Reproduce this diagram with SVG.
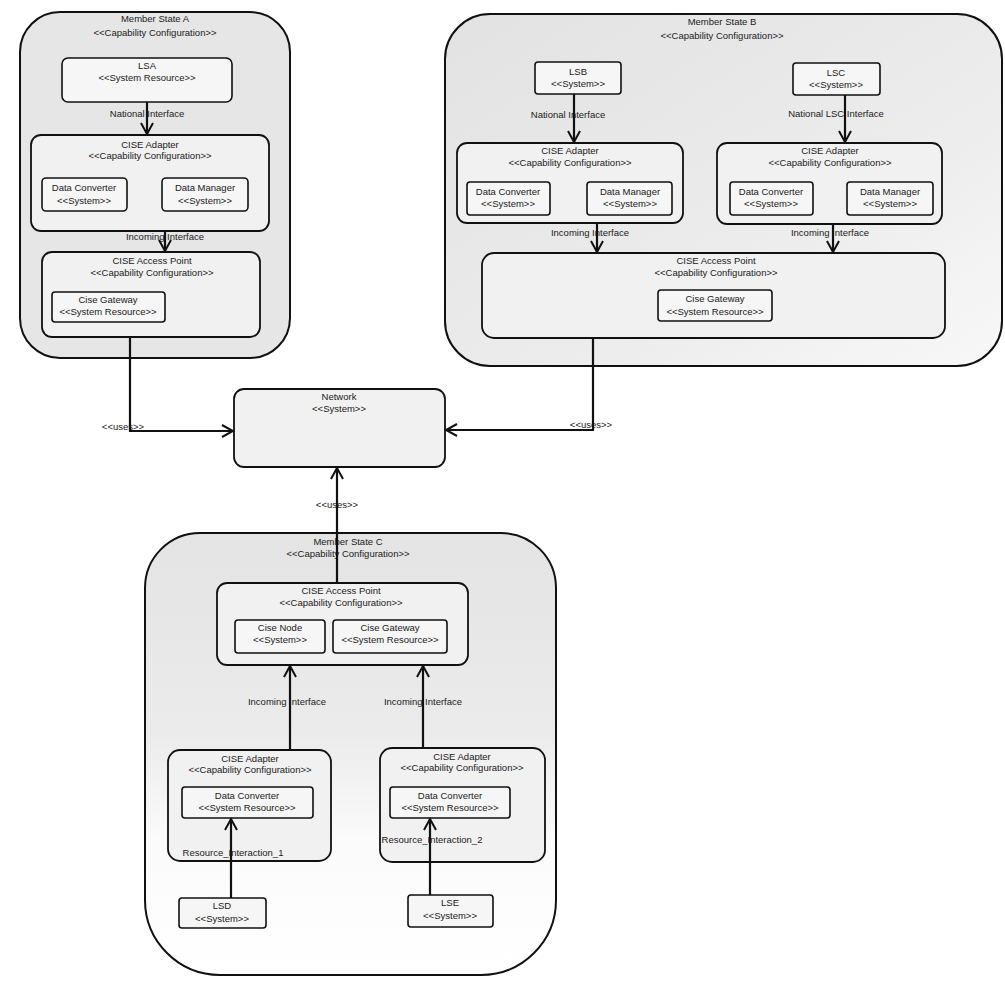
<svg xmlns="http://www.w3.org/2000/svg" width="1005" height="983" viewBox="0 0 1005 983">
<defs>
<marker id="arr" markerUnits="userSpaceOnUse" markerWidth="14" markerHeight="14" viewBox="0 0 14 14" refX="12" refY="7" orient="auto">
<path d="M1,1 L12,7 L1,13" fill="none" stroke="#111" stroke-width="2"/>
</marker>
<linearGradient id="gC" x1="0" y1="0" x2="0" y2="1">
<stop offset="0" stop-color="#e4e4e4"/>
<stop offset="0.45" stop-color="#ebebeb"/>
<stop offset="0.7" stop-color="#fbfbfb"/>
<stop offset="1" stop-color="#ffffff"/>
</linearGradient>
<linearGradient id="gB" x1="0" y1="0" x2="1" y2="1">
<stop offset="0" stop-color="#e2e2e2"/>
<stop offset="0.6" stop-color="#ececec"/>
<stop offset="1" stop-color="#f8f8f8"/>
</linearGradient>
</defs>
<style>
.outer{fill:#e6e6e6;stroke:#111;stroke-width:2}
.mid{fill:#f1f1f1;stroke:#111;stroke-width:1.8}
.leaf{fill:#f6f6f6;stroke:#111;stroke-width:1.6}
.conn{fill:none;stroke:#111;stroke-width:2.2}
text{font-family:"Liberation Sans",Arial,sans-serif;font-size:9.5px;fill:#1a1a1a;text-anchor:middle}
</style>
<rect width="1005" height="983" fill="#ffffff"/>

<g id="member-state-a">
<rect class="outer" x="20" y="12" width="270" height="346" rx="40"/>
<text x="155" y="22">Member State A</text>
<text x="155" y="36">&lt;&lt;Capability Configuration&gt;&gt;</text>
</g>
<g id="lsa">
<rect class="leaf" x="62" y="58" width="170" height="44" rx="6"/>
<text x="147" y="69">LSA</text>
<text x="147" y="81">&lt;&lt;System Resource&gt;&gt;</text>
</g>
<g id="cise-adapter-a">
<rect class="mid" x="31" y="135" width="238" height="96" rx="10"/>
<text x="150" y="148">CISE Adapter</text>
<text x="150" y="159">&lt;&lt;Capability Configuration&gt;&gt;</text>
</g>
<g id="data-converter-a">
<rect class="leaf" x="42" y="178" width="85" height="33" rx="4"/>
<text x="84" y="191">Data Converter</text>
<text x="84" y="204">&lt;&lt;System&gt;&gt;</text>
</g>
<g id="data-manager-a">
<rect class="leaf" x="162" y="178" width="86" height="33" rx="4"/>
<text x="205" y="191">Data Manager</text>
<text x="205" y="204">&lt;&lt;System&gt;&gt;</text>
</g>
<g id="cise-access-point-a">
<rect class="mid" x="42" y="252" width="218" height="85" rx="10"/>
<text x="152" y="264">CISE Access Point</text>
<text x="152" y="276">&lt;&lt;Capability Configuration&gt;&gt;</text>
</g>
<g id="cise-gateway-a">
<rect class="leaf" x="52" y="292" width="113" height="30" rx="3"/>
<text x="108" y="303">Cise Gateway</text>
<text x="108" y="315">&lt;&lt;System Resource&gt;&gt;</text>
</g>

<g id="member-state-b">
<rect class="outer" style="fill:url(#gB)" x="445" y="14" width="557" height="352" rx="45"/>
<text x="722" y="25">Member State B</text>
<text x="722" y="39">&lt;&lt;Capability Configuration&gt;&gt;</text>
</g>
<g id="lsb">
<rect class="leaf" x="535" y="62" width="86" height="32" rx="3"/>
<text x="578" y="75">LSB</text>
<text x="578" y="87">&lt;&lt;System&gt;&gt;</text>
</g>
<g id="lsc">
<rect class="leaf" x="793" y="63" width="87" height="32" rx="3"/>
<text x="836" y="76">LSC</text>
<text x="836" y="88">&lt;&lt;System&gt;&gt;</text>
</g>
<g id="cise-adapter-b1">
<rect class="mid" x="457" y="143" width="226" height="80" rx="10"/>
<text x="570" y="154">CISE Adapter</text>
<text x="570" y="166">&lt;&lt;Capability Configuration&gt;&gt;</text>
</g>
<g id="data-converter-b1">
<rect class="leaf" x="467" y="182" width="83" height="33" rx="3"/>
<text x="508" y="195">Data Converter</text>
<text x="508" y="207">&lt;&lt;System&gt;&gt;</text>
</g>
<g id="data-manager-b1">
<rect class="leaf" x="587" y="182" width="85" height="33" rx="3"/>
<text x="630" y="195">Data Manager</text>
<text x="630" y="207">&lt;&lt;System&gt;&gt;</text>
</g>
<g id="cise-adapter-b2">
<rect class="mid" x="717" y="143" width="225" height="81" rx="10"/>
<text x="830" y="154">CISE Adapter</text>
<text x="830" y="166">&lt;&lt;Capability Configuration&gt;&gt;</text>
</g>
<g id="data-converter-b2">
<rect class="leaf" x="730" y="182" width="83" height="33" rx="3"/>
<text x="771" y="195">Data Converter</text>
<text x="771" y="207">&lt;&lt;System&gt;&gt;</text>
</g>
<g id="data-manager-b2">
<rect class="leaf" x="847" y="182" width="86" height="33" rx="3"/>
<text x="890" y="195">Data Manager</text>
<text x="890" y="207">&lt;&lt;System&gt;&gt;</text>
</g>
<g id="cise-access-point-b">
<rect class="mid" x="482" y="253" width="463" height="85" rx="12"/>
<text x="716" y="264">CISE Access Point</text>
<text x="716" y="276">&lt;&lt;Capability Configuration&gt;&gt;</text>
</g>
<g id="cise-gateway-b">
<rect class="leaf" x="658" y="290" width="114" height="31" rx="3"/>
<text x="715" y="302">Cise Gateway</text>
<text x="715" y="315">&lt;&lt;System Resource&gt;&gt;</text>
</g>

<g id="network">
<rect class="mid" x="234" y="389" width="211" height="78" rx="10"/>
<text x="339" y="400">Network</text>
<text x="339" y="412">&lt;&lt;System&gt;&gt;</text>
</g>

<g id="member-state-c">
<path class="outer" style="fill:url(#gC)" d="M200,533 H501 A55,55 0 0 1 556,588 V900 A75,75 0 0 1 481,975 H220 A75,75 0 0 1 145,900 V588 A55,55 0 0 1 200,533 Z"/>
<text x="348" y="545">Member State C</text>
<text x="348" y="557">&lt;&lt;Capability Configuration&gt;&gt;</text>
</g>
<g id="cise-access-point-c">
<rect class="mid" x="217" y="583" width="251" height="82" rx="10"/>
<text x="341" y="594">CISE Access Point</text>
<text x="341" y="606">&lt;&lt;Capability Configuration&gt;&gt;</text>
</g>
<g id="cise-node-c">
<rect class="leaf" x="235" y="620" width="90" height="33" rx="3"/>
<text x="280" y="631">Cise Node</text>
<text x="280" y="643">&lt;&lt;System&gt;&gt;</text>
</g>
<g id="cise-gateway-c">
<rect class="leaf" x="333" y="620" width="114" height="33" rx="3"/>
<text x="390" y="631">Cise Gateway</text>
<text x="390" y="643">&lt;&lt;System Resource&gt;&gt;</text>
</g>
<g id="cise-adapter-c1">
<rect class="mid" x="168" y="750" width="163" height="111" rx="12"/>
<text x="250" y="762">CISE Adapter</text>
<text x="250" y="773">&lt;&lt;Capability Configuration&gt;&gt;</text>
</g>
<g id="data-converter-c1">
<rect class="leaf" x="182" y="787" width="131" height="31" rx="3"/>
<text x="247" y="799">Data Converter</text>
<text x="247" y="811">&lt;&lt;System Resource&gt;&gt;</text>
</g>
<g id="cise-adapter-c2">
<rect class="mid" x="380" y="748" width="165" height="114" rx="12"/>
<text x="462" y="760">CISE Adapter</text>
<text x="462" y="771">&lt;&lt;Capability Configuration&gt;&gt;</text>
</g>
<g id="data-converter-c2">
<rect class="leaf" x="390" y="787" width="120" height="31" rx="3"/>
<text x="450" y="799">Data Converter</text>
<text x="450" y="811">&lt;&lt;System Resource&gt;&gt;</text>
</g>
<g id="lsd">
<rect class="leaf" x="179" y="898" width="87" height="30" rx="3"/>
<text x="222" y="909">LSD</text>
<text x="222" y="922">&lt;&lt;System&gt;&gt;</text>
</g>
<g id="lse">
<rect class="leaf" x="408" y="895" width="85" height="32" rx="3"/>
<text x="450" y="906">LSE</text>
<text x="450" y="919">&lt;&lt;System&gt;&gt;</text>
</g>

<g id="connectors">
<path class="conn" d="M147,102 L147,134" marker-end="url(#arr)"/>
<text x="147" y="117">National Interface</text>
<path class="conn" d="M165,231 L165,251" marker-end="url(#arr)"/>
<text x="165" y="240">Incoming Interface</text>
<path class="conn" d="M130,337 L130,431 L233,431" marker-end="url(#arr)"/>
<text x="123" y="430">&lt;&lt;uses&gt;&gt;</text>

<path class="conn" d="M574,94 L574,142" marker-end="url(#arr)"/>
<text x="568" y="118">National Interface</text>
<path class="conn" d="M845,95 L845,142" marker-end="url(#arr)"/>
<text x="836" y="117">National LSC Interface</text>
<path class="conn" d="M597,223 L597,252" marker-end="url(#arr)"/>
<text x="590" y="236">Incoming Interface</text>
<path class="conn" d="M833,224 L833,252" marker-end="url(#arr)"/>
<text x="830" y="236">Incoming Interface</text>
<path class="conn" d="M593,338 L593,430 L446,430" marker-end="url(#arr)"/>
<text x="591" y="428">&lt;&lt;uses&gt;&gt;</text>

<path class="conn" d="M337,583 L337,468" marker-end="url(#arr)"/>
<text x="337" y="508">&lt;&lt;uses&gt;&gt;</text>
<path class="conn" d="M290,750 L290,666" marker-end="url(#arr)"/>
<text x="287" y="705">Incoming Interface</text>
<path class="conn" d="M423,748 L423,666" marker-end="url(#arr)"/>
<text x="423" y="705">Incoming Interface</text>
<path class="conn" d="M231,898 L231,819" marker-end="url(#arr)"/>
<text x="233" y="856">Resource_Interaction_1</text>
<path class="conn" d="M430,895 L430,819" marker-end="url(#arr)"/>
<text x="432" y="843">Resource_Interaction_2</text>
</g>
</svg>
